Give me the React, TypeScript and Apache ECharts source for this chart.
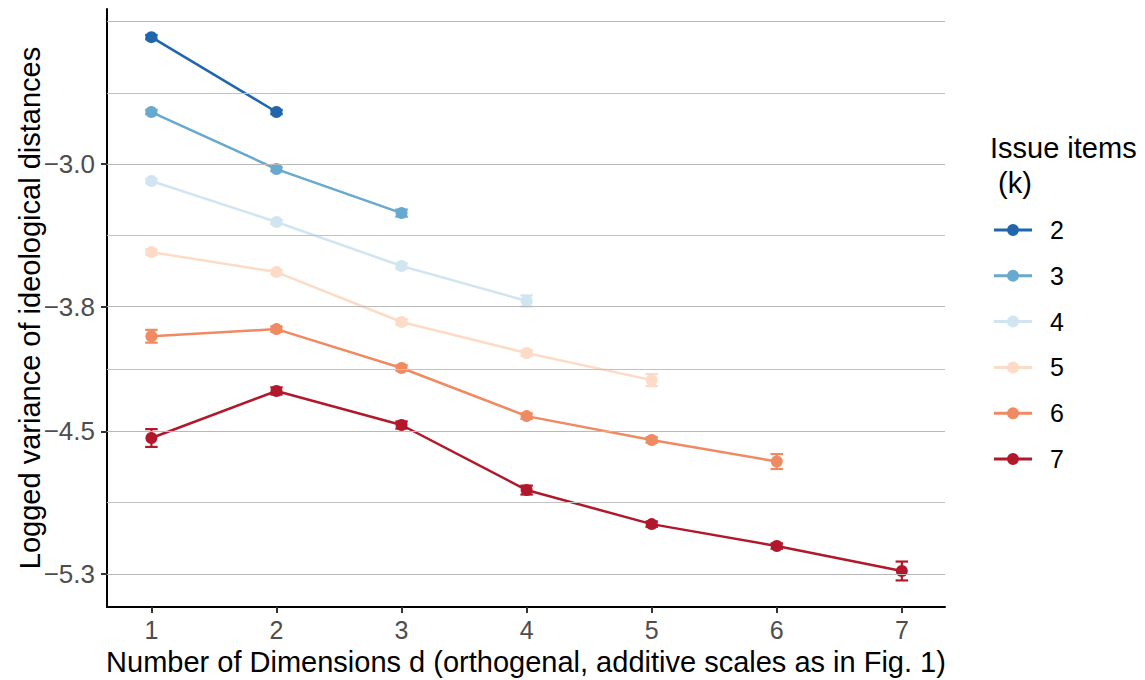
import React, { useEffect, useRef } from "react";
import * as echarts from "echarts";

const DIMS = [1, 2, 3, 4, 5, 6, 7];
const K_LABELS = ["2", "3", "4", "5", "6", "7"];
const COLORS = ["#2166AC", "#67A9CF", "#D1E5F0", "#FDDBC7", "#EF8A62", "#B2182B"];

const VAR_K2 = [-2.288, -2.708];
const VAR_K3 = [-2.708, -3.028, -3.275];
const VAR_K4 = [-3.095, -3.325, -3.572, -3.768];
const VAR_K5 = [-3.494, -3.606, -3.886, -4.06, -4.212];
const VAR_K6 = [-3.966, -3.926, -4.144, -4.414, -4.548, -4.669];
const VAR_K7 = [-4.537, -4.273, -4.464, -4.829, -5.02, -5.143, -5.283];

const ERR_K2 = [0.012, 0.012];
const ERR_K3 = [0.012, 0.012, 0.02];
const ERR_K4 = [0.012, 0.012, 0.015, 0.031];
const ERR_K5 = [0.015, 0.012, 0.015, 0.015, 0.034];
const ERR_K6 = [0.036, 0.015, 0.015, 0.015, 0.015, 0.042];
const ERR_K7 = [0.05, 0.02, 0.02, 0.025, 0.015, 0.015, 0.053];

const VALUES = [VAR_K2, VAR_K3, VAR_K4, VAR_K5, VAR_K6, VAR_K7];
const ERRORS = [ERR_K2, ERR_K3, ERR_K4, ERR_K5, ERR_K6, ERR_K7];

const Y_LABELS = [-5.3, -4.5, -3.8, -3.0];
const GRID_MAJOR = [-2.2, -3.0, -3.8, -4.5, -5.3];
const GRID_MINOR = [-2.6, -3.4, -4.15, -4.9];

const X_TITLE = "Number of Dimensions d (orthogenal, additive scales as in Fig. 1)";
const Y_TITLE = "Logged variance of ideological distances";
const LEGEND_TITLE_1 = "Issue items";
const LEGEND_TITLE_2 = " (k)";

const FONT = "'Liberation Sans', Arial, Helvetica, sans-serif";
const LEGEND_ICON = "path://M0,5.5L38,5.5L38,8.5L0,8.5Z M13,7A6,6 0 1 1 25,7A6,6 0 1 1 13,7Z";

export default function App() {
  const ref = useRef<HTMLDivElement>(null);
  useEffect(() => {
    if (!ref.current) return;
    const chart = echarts.init(ref.current, null, { renderer: "svg" });

    const lineSeries: any[] = VALUES.map((vals, i) => ({
      type: "line",
      name: K_LABELS[i],
      data: vals.map((v, j) => [DIMS[j], v]),
      symbol: "circle",
      symbolSize: 12,
      z: 3,
      color: COLORS[i],
      lineStyle: { color: COLORS[i], width: 2.5 },
      itemStyle: { color: COLORS[i] },
      emphasis: { disabled: true },
    }));

    const errSeries: any[] = VALUES.map((vals, i) => ({
      type: "custom",
      name: "err" + K_LABELS[i],
      z: 4,
      data: vals.map((v, j) => [DIMS[j], v - ERRORS[i][j], v + ERRORS[i][j]]),
      encode: { x: 0, y: [1, 2] },
      renderItem: (params: any, api: any) => {
        const x = api.value(0);
        const lo = api.coord([x, api.value(1)]);
        const hi = api.coord([x, api.value(2)]);
        const hw = api.size([0.05, 0])[0];
        const st = { stroke: COLORS[i], lineWidth: 2.2, fill: "none" };
        return {
          type: "group",
          children: [
            { type: "line", shape: { x1: lo[0], y1: lo[1], x2: hi[0], y2: hi[1] }, style: st },
            { type: "line", shape: { x1: lo[0] - hw, y1: lo[1], x2: lo[0] + hw, y2: lo[1] }, style: st },
            { type: "line", shape: { x1: hi[0] - hw, y1: hi[1], x2: hi[0] + hw, y2: hi[1] }, style: st },
          ],
        };
      },
    }));

    const gridSeries = {
      type: "line",
      name: "grid",
      data: [],
      z: 1,
      silent: true,
      markLine: {
        silent: true,
        symbol: ["none", "none"],
        label: { show: false },
        emphasis: { disabled: true },
        data: [
          ...GRID_MAJOR.map((v) => ({ yAxis: v, lineStyle: { color: "#B8B8B8", width: 1.1, type: "solid" } })),
          ...GRID_MINOR.map((v) => ({ yAxis: v, lineStyle: { color: "#C2C2C2", width: 1, type: "solid" } })),
        ],
      },
    };

    const fmt = (v: number) => (v < 0 ? "\u2212" : "") + Math.abs(v).toFixed(1);

    chart.setOption({
      animation: false,
      backgroundColor: "#FFFFFF",
      textStyle: { fontFamily: FONT },
      grid: { left: 107, top: 9, width: 838, height: 598, containLabel: false },
      xAxis: {
        type: "value",
        min: 0.645,
        max: 7.345,
        axisLine: { show: true, lineStyle: { color: "#000", width: 2 } },
        axisTick: { show: true, length: 6, lineStyle: { color: "#333", width: 2 }, customValues: DIMS },
        axisLabel: { fontSize: 25, color: "#4D4D4D", margin: 10, customValues: DIMS, fontFamily: FONT },
        splitLine: { show: false },
      },
      yAxis: {
        type: "value",
        min: -5.485,
        max: -2.13,
        axisLine: { show: true, lineStyle: { color: "#000", width: 2 } },
        axisTick: { show: true, length: 6, lineStyle: { color: "#333", width: 2 }, customValues: Y_LABELS },
        axisLabel: { fontSize: 26, color: "#4D4D4D", margin: 12, customValues: Y_LABELS, formatter: fmt, fontFamily: FONT },
        splitLine: { show: false },
      },
      legend: {
        orient: "vertical",
        left: 989,
        top: 212.5,
        itemWidth: 38,
        itemHeight: 12,
        itemGap: 20.8,
        icon: LEGEND_ICON,
        data: K_LABELS,
        selectedMode: false,
        textStyle: { fontSize: 25, color: "#000", fontFamily: FONT, padding: [0, 0, 0, 13] },
      },
      graphic: [
        {
          type: "text",
          x: 30,
          y: 308,
          rotation: Math.PI / 2,
          style: { text: Y_TITLE, fontSize: 29, fill: "#000", fontFamily: FONT, align: "center", verticalAlign: "middle" },
        },
        {
          type: "text",
          x: 526,
          y: 662,
          style: { text: X_TITLE, fontSize: 29, fill: "#000", fontFamily: FONT, align: "center", verticalAlign: "middle" },
        },
        { type: "text", x: 990, y: 148, style: { text: LEGEND_TITLE_1, fontSize: 29, fill: "#000", fontFamily: FONT, verticalAlign: "middle" } },
        { type: "text", x: 990, y: 183, style: { text: LEGEND_TITLE_2, fontSize: 29, fill: "#000", fontFamily: FONT, verticalAlign: "middle" } },
      ],
      series: [gridSeries, ...lineSeries, ...errSeries],
    });
    return () => chart.dispose();
  }, []);
  return <div ref={ref} style={{ position: "fixed", left: 0, top: 0, width: 1145, height: 680 }} />;
}
